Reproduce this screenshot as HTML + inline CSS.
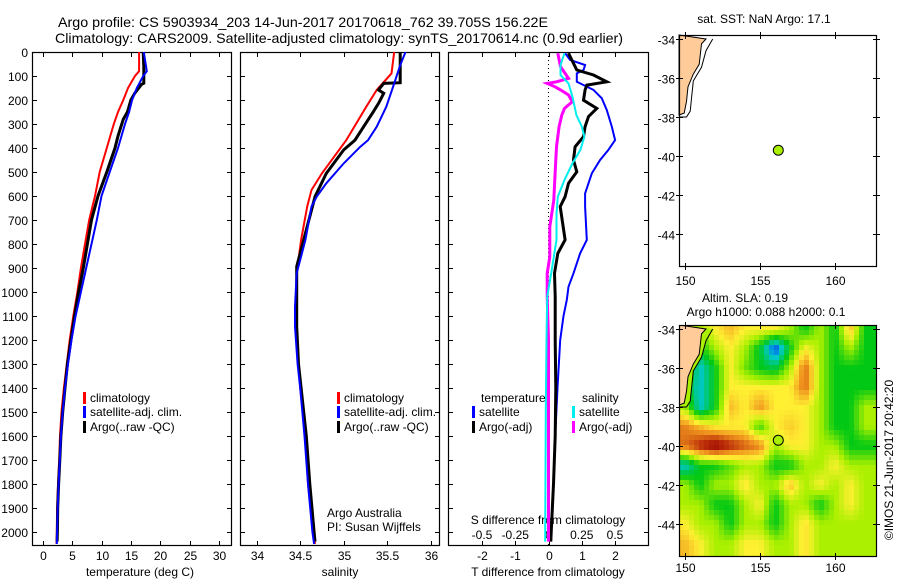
<!DOCTYPE html>
<html><head><meta charset="utf-8"><style>
html,body{margin:0;padding:0;background:#fff;}
svg{display:block;font-family:"Liberation Sans",sans-serif;}
text{font-size:12px;fill:#000;}
</style></head><body>
<svg id="svg" width="900" height="580" viewBox="0 0 900 580">
<defs>
<clipPath id="c1"><rect x="32" y="52" width="199" height="493"/></clipPath>
<clipPath id="c2"><rect x="240" y="52" width="199" height="493"/></clipPath>
<clipPath id="c3"><rect x="448" y="52" width="200" height="493"/></clipPath>
<clipPath id="cm2"><rect x="679" y="325" width="198" height="231"/></clipPath>
</defs>
<text x="303" y="27" text-anchor="middle" textLength="490" lengthAdjust="spacingAndGlyphs" style="font-size:14px">Argo profile: CS 5903934_203 14-Jun-2017 20170618_762 39.705S 156.22E</text>
<text x="339" y="43" text-anchor="middle" textLength="568" lengthAdjust="spacingAndGlyphs" style="font-size:14px">Climatology: CARS2009. Satellite-adjusted climatology: synTS_20170614.nc (0.9d earlier)</text>
<g id="g"></g>
</svg>
<script>
// ---- data ----
const tDepth=[0,80,100,150,200,250,300,400,500,600,700,800,900,1000,1100,1200,1300,1400,1500,1600,1700,1800,1900,2000,2050];
const tClim=[16.4,16.4,15.7,14.5,13.7,12.8,12.1,10.9,9.7,8.9,7.9,7.2,6.5,5.9,5.2,4.6,4.1,3.6,3.2,2.95,2.8,2.6,2.45,2.4,2.35];
const tSat=[17.2,17.7,17.1,16.0,15.2,14.7,14.0,12.8,11.4,10.0,9.2,8.3,7.4,6.5,5.6,4.9,4.3,3.8,3.4,3.1,2.9,2.7,2.55,2.45,2.4];
const tArgoDepth=[0,60,130,135,170,200,250,280,350,400,500,600,700,800,900,1000,1100,1200,1300,1400,1500,1600,1700,1800,1900,2000,2040];
const tArgo=[17.1,17.2,17.2,16.8,15.7,15.0,14.4,13.7,12.8,12.3,10.9,9.4,8.3,7.6,6.9,6.1,5.4,4.8,4.2,3.8,3.4,3.1,2.9,2.7,2.55,2.5,2.45];
const sClimDepth=[0,89,158,228,367,506,575,644,783,922,1144,1300,1400,1600,1800,2000,2050];
const sClim=[35.58,35.55,35.38,35.26,35.03,34.75,34.63,34.58,34.51,34.46,34.46,34.48,34.50,34.56,34.59,34.65,34.67];
const sSatDepth=[0,55,131,228,311,367,395,464,547,603,644,783,922,1061,1144,1300,1400,1600,1800,2000,2050];
const sSat=[35.71,35.65,35.58,35.49,35.38,35.28,35.19,35.0,34.80,34.69,34.63,34.56,34.46,34.44,34.44,34.47,34.50,34.55,34.59,34.64,34.66];
const sArgoDepth=[0,128,131,158,172,214,249,311,367,408,506,603,783,894,1144,1300,1400,1600,1800,2000,2040];
const sArgo=[35.65,35.65,35.46,35.40,35.46,35.40,35.34,35.23,35.13,35.0,34.80,34.67,34.54,34.46,34.46,34.48,34.51,34.57,34.61,34.66,34.67];
const dTSatDepth=[5,33,54,75,89,124,158,193,242,311,367,408,450,506,589,644,783,839,922,978,1033,1100,1200,1400,1600,1800,2000,2040];
const dTSat=[0.5,0.65,1.1,1.05,0.85,0.85,1.35,1.6,1.75,1.9,2.0,1.8,1.55,1.3,1.1,1.1,1.15,0.95,0.75,0.6,0.55,0.45,0.35,0.27,0.2,0.15,0.08,0.07];
const dTArgoDepth=[5,33,75,96,124,138,158,201,235,269,311,353,395,450,499,547,603,644,783,839,922,1019,1100,1200,1400,1600,1800,2000,2040];
const dTArgo=[0.6,0.7,0.85,1.35,1.75,1.15,1.1,1.05,1.45,1.2,1.1,1.05,0.8,0.75,0.85,0.6,0.5,0.35,0.5,0.28,0.18,0.2,0.2,0.2,0.22,0.2,0.15,0.08,0.07];
const dSSatDepth=[5,54,96,131,186,263,311,353,408,464,533,603,672,783,922,1019,1200,1500,2000,2040];
const dSSat=[0.12,0.09,0.09,0.15,0.18,0.21,0.25,0.27,0.24,0.18,0.12,0.07,0.06,0.06,0.02,-0.01,-0.015,-0.02,-0.025,-0.025];
const dSArgoDepth=[5,61,110,124,131,145,158,179,207,235,263,311,395,506,617,728,853,922,1019,1200,1500,2000,2040];
const dSArgo=[0.07,0.09,0.15,0.06,-0.01,0.05,0.09,0.15,0.18,0.12,0.1,0.08,0.06,0.05,0.04,0.01,0.01,-0.01,-0.01,0,0,0,0];
const depthTicks=[0,100,200,300,400,500,600,700,800,900,1000,1100,1200,1300,1400,1500,1600,1700,1800,1900,2000];
const tTicks=[0,5,10,15,20,25,30];
const sTicks=[34,34.5,35,35.5,36];
const sTickLabels=["34","34.5","35","35.5","36"];
const dTTicks=[-2,-1,0,1,2];
const dSTicks=[-0.5,-0.25,0,0.25,0.5];
const dSTickLabels=["-0.5","-0.25","0","0.25","0.5"];
const latTicks=[-34,-36,-38,-40,-42,-44];
const lonTicks=[150,155,160];
// SLA grid: rows lat -34..-45, cols lon 150..162
const slaLats=[-34,-35,-36,-37,-38,-39,-40,-41,-42,-43,-44,-45];
const slaLons=[150,151,152,153,154,155,156,157,158,159,160,161,162];
const sla=[
[0,0,0.2,0.35,0.2,0.2,0.2,0,-0.3,0,-0.3,0.35,-0.3],
[0,-0.3,0,0.2,0,-0.35,-0.95,-0.3,0.2,0,-0.3,0,-0.3],
[0,-0.65,-0.3,0.2,-0.1,-0.3,-0.4,0,0.55,0,-0.3,-0.3,-0.3],
[-0.3,-0.65,-0.3,0.2,0.2,0.2,0.2,0.2,0.55,0,-0.3,-0.3,-0.3],
[0,-0.65,-0.3,0.35,0.2,0.45,0.2,0.2,0.2,0,-0.3,-0.3,0],
[0.5,0.35,0.2,0.2,0.2,-0.2,0.2,0.3,0.2,0,-0.3,-0.3,0],
[0.55,0.75,0.95,0.75,0.6,0.5,0,0.2,0.2,0,0,-0.3,-0.3],
[-0.65,-0.3,-0.3,-0.15,0,0,-0.3,-0.3,0,0,0.2,0,0],
[0,-0.3,0,0,0.25,0,0,0.35,0,0.2,0,0.2,0],
[0,0,-0.3,-0.3,0,0.2,-0.3,0,0,-0.3,0,0.2,0],
[0.2,0,0,-0.3,0,0,-0.3,0,0.25,0,0,0,0],
[0.35,0.2,0,0,0.2,0.2,0,0,0.25,0,0,0,0]];
const floatLon=156.22, floatLat=-39.705;

// ---- scales ----
const yD=d=>52+0.24*d;
const xT=t=>42.7+5.88*t;
const xS=s=>256.7+87*(s-34);
const xdT=v=>548.5+33.3*v;
const xdS=v=>548.5+133*v;
const mx=lon=>685+15*(lon-150);
const my1=lat=>39+19.5*(-34-lat);
const my2=lat=>329+19.5*(-34-lat);

const NS="http://www.w3.org/2000/svg";
const G=document.getElementById('g');
function el(tag,attrs,parent){const e=document.createElementNS(NS,tag);for(const k in attrs)e.setAttribute(k,attrs[k]);(parent||G).appendChild(e);return e;}
function txt(x,y,s,anchor,parent,extra){const e=el('text',Object.assign({x:x,y:y,'text-anchor':anchor||'start'},extra||{}),parent);e.textContent=s;return e;}

function panel(x0,w,name){
  const g=el('g',{});
  
  
  const r=el('rect',{x:x0+0.5,y:52.5,width:w,height:493,fill:'none',stroke:'#000','stroke-width':1.2},g);
  
  
  depthTicks.forEach(d=>{
    el('line',{x1:x0,x2:x0+5,y1:yD(d)+0.5,y2:yD(d)+0.5,stroke:'#000'},g);
    el('line',{x1:x0+w-4,x2:x0+w+1,y1:yD(d)+0.5,y2:yD(d)+0.5,stroke:'#000'},g);
  });
  return g;
}
function xticks(g,vals,labels,fx,ly){
  vals.forEach((v,i)=>{
    const x=Math.round(fx(v))+0.5;
    el('line',{x1:x,x2:x,y1:52,y2:57,stroke:'#000'},g);
    el('line',{x1:x,x2:x,y1:541,y2:546,stroke:'#000'},g);
    const t=txt(x,ly,labels[i],'middle',g);
    
    
  });
}
function line(depths,vals,fx,color,w,clip,name){
  const pts=depths.map((d,i)=>fx(vals[i]).toFixed(1)+','+yD(d).toFixed(1)).join(' ');
  const p=el('polyline',{points:pts,fill:'none',stroke:color,'stroke-width':w,'clip-path':'url(#'+clip+')','stroke-linejoin':'miter'});
  
  
}
function legend(x,y,color,label,g){
  el('rect',{x:x,y:y-10,width:3,height:12,fill:color},g);
  const t=txt(x+7,y,label,'start',g);
  
  
}

// Panel 1 temperature
const p1=panel(32,199,'temperature-panel');
depthTicks.forEach(d=>{const t=txt(28,yD(d)+5,String(d),'end',p1);});
xticks(p1,tTicks,tTicks.map(String),xT,560);
{const t=txt(140,576,'temperature (deg C)','middle',p1);}
line(tDepth,tClim,xT,'#ff0000',2,'c1','temperature-climatology-line');
line(tArgoDepth,tArgo,xT,'#000000',3,'c1','temperature-argo-line');
line(tDepth,tSat,xT,'#0000ff',2,'c1','temperature-satellite-line');
legend(83,402,'#ff0000','climatology',p1);
legend(83,416,'#0000ff','satellite-adj. clim.',p1);
legend(83,431,'#000000','Argo(..raw -QC)',p1);

// Panel 2 salinity
const p2=panel(240,199,'salinity-panel');
xticks(p2,sTicks,sTickLabels,xS,560);
{const t=txt(340,576,'salinity','middle',p2);}
line(sClimDepth,sClim,xS,'#ff0000',2,'c2','salinity-climatology-line');
line(sArgoDepth,sArgo,xS,'#000000',3,'c2','salinity-argo-line');
line(sSatDepth,sSat,xS,'#0000ff',2,'c2','salinity-satellite-line');
legend(337,402,'#ff0000','climatology',p2);
legend(337,416,'#0000ff','satellite-adj. clim.',p2);
legend(337,431,'#000000','Argo(..raw -QC)',p2);
{const t=txt(327,517,'Argo Australia','start',p2);}
{const t=txt(327,531,'PI: Susan Wijffels','start',p2);}

// Panel 3 differences
const p3=panel(448,200,'difference-panel');
el('line',{x1:548.5,x2:548.5,y1:52,y2:545,stroke:'#000','stroke-dasharray':'1,3'},p3);
dTTicks.forEach(v=>{const x=Math.round(xdT(v))+0.5;el('line',{x1:x,x2:x,y1:52,y2:57,stroke:'#000'},p3);el('line',{x1:x,x2:x,y1:541,y2:546,stroke:'#000'},p3);
  const t=txt(x,560,String(v),'middle',p3);});
dSTicks.forEach((v,i)=>{const t=txt(xdS(v),539,dSTickLabels[i],'middle',p3);});
{const t=txt(548,524,'S difference from climatology','middle',p3);}
{const t=txt(548,576,'T difference from climatology','middle',p3);}
line(dTSatDepth,dTSat,xdT,'#0000ff',2,'c3','t-diff-satellite-line');
line(dTArgoDepth,dTArgo,xdT,'#000000',3,'c3','t-diff-argo-line');
line(dSArgoDepth,dSArgo,xdS,'#ff00ff',3,'c3','s-diff-argo-line');
line(dSSatDepth,dSSat,xdS,'#00eeee',2,'c3','s-diff-satellite-line');
txt(481,402,'temperature','start',p3);
txt(582,402,'salinity','start',p3);
legend(472,416,'#0000ff','satellite',p3);
legend(472,431,'#000000','Argo(-adj)',p3);
legend(572,416,'#00eeee','satellite',p3);
legend(572,431,'#ff00ff','Argo(-adj)',p3);

// ---- maps ----
const coast=[[151.4,-34],[151.1,-34.25],[150.95,-35.3],[150.55,-35.8],[150.2,-36.45],[150.1,-37.2],[149.95,-37.8],[149.6,-37.9]];
const contour=[[151.85,-34],[151.4,-34.6],[151.1,-35.45],[150.55,-36.15],[150.45,-36.95],[150.35,-37.7],[150.1,-38.0],[149.6,-38.0]];
function mapFrame(g,my,yTop,lblY,name){
  const f=el('rect',{x:679.5,y:yTop+0.5,width:197,height:231,fill:'none',stroke:'#000','stroke-width':1.2},g);
  
  
  latTicks.forEach(l=>{const y=Math.round(my(l))+0.5;
    el('line',{x1:676,x2:683,y1:y,y2:y,stroke:'#000'},g);el('line',{x1:873,x2:880,y1:y,y2:y,stroke:'#000'},g);
    const t=txt(675,y+5,String(l),'end',g);});
  lonTicks.forEach(l=>{const x=Math.round(mx(l))+0.5;
    el('line',{x1:x,x2:x,y1:yTop-3,y2:yTop+4,stroke:'#000'},g);el('line',{x1:x,x2:x,y1:yTop+228,y2:yTop+235,stroke:'#000'},g);
    const t=txt(x,lblY,String(l),'middle',g);});
}
function landPts(my,yTop){return '679,'+(yTop)+' '+coast.map(p=>mx(p[0]).toFixed(1)+','+my(p[1]).toFixed(1)).join(' ');}
function contourPts(my){return contour.map(p=>mx(p[0]).toFixed(1)+','+my(p[1]).toFixed(1)).join(' ');}

// Map 1
const m1=el('g',{});


{const t=txt(764,23,'sat. SST: NaN Argo: 17.1','middle',m1);}
el('polygon',{points:landPts(my1,35),fill:'#ffcc99',stroke:'#000','stroke-width':1},m1);
el('polyline',{points:contourPts(my1),fill:'none',stroke:'#000','stroke-width':1},m1);
mapFrame(m1,my1,35,285,'sst-map');
{const c=el('circle',{cx:mx(floatLon),cy:my1(floatLat),r:5,fill:'#aaee00',stroke:'#000'},m1);}

// Map 2
const m2=el('g',{});


{const t=txt(745,302,'Altim. SLA: 0.19','middle',m2);}
{const t=txt(766,316,'Argo h1000: 0.088 h2000: 0.1','middle',m2);}
const stops=[[-0.95,[0,60,240]],[-0.65,[0,200,210]],[-0.3,[0,200,20]],[0,[170,240,0]],[0.2,[255,240,50]],[0.45,[240,150,30]],[0.7,[190,50,10]],[0.95,[150,0,0]]];
function cmap(v){if(v<=stops[0][0])return 'rgb('+stops[0][1]+')';
  for(let i=1;i<stops.length;i++){if(v<=stops[i][0]){const a=stops[i-1],b=stops[i],f=(v-a[0])/(b[0]-a[0]);
    return 'rgb('+a[1].map((c,k)=>Math.round(c+(b[1][k]-c)*f)).join(',')+')';}}
  return 'rgb('+stops[stops.length-1][1]+')';}
// bilinear sampling of the SLA grid
function slaAt(lon,lat){
  let fc=Math.min(Math.max(lon-slaLons[0],0),slaLons.length-1);
  let fr=Math.min(Math.max(slaLats[0]-lat,0),slaLats.length-1);
  const c0=Math.min(Math.floor(fc),slaLons.length-2), r0=Math.min(Math.floor(fr),slaLats.length-2);
  const u=fc-c0, v=fr-r0;
  return sla[r0][c0]*(1-u)*(1-v)+sla[r0][c0+1]*u*(1-v)+sla[r0+1][c0]*(1-u)*v+sla[r0+1][c0+1]*u*v;
}
const hmClip=el('g',{'clip-path':'url(#cm2)'},m2);
const hm=el('g',{'shape-rendering':'crispEdges'},hmClip);


const PX=5;
for(let y=325;y<556;y+=PX){
  for(let x=679;x<877;x+=PX){
    const lon=150+(x+PX/2-685)/15, lat=-34-(y+PX/2-329)/19.5;
    const cell=el('rect',{x:x,y:y,width:PX,height:PX,fill:cmap(slaAt(lon,lat))},hm);
    
    
  }
}
el('polygon',{points:'679,325 '+contour.map(p=>mx(p[0]).toFixed(1)+','+my2(p[1]).toFixed(1)).join(' '),fill:'#aaf000'},hmClip);
el('polygon',{points:landPts(my2,325),fill:'#ffcc99',stroke:'#000','stroke-width':1},hmClip);
el('polyline',{points:contourPts(my2),fill:'none',stroke:'#000','stroke-width':1},hmClip);
mapFrame(m2,my2,325,572,'sla-map');
{const c=el('circle',{cx:mx(floatLon),cy:my2(floatLat),r:5,fill:'#aaee00',stroke:'#000'},m2);}
{const t=txt(0,0,'©IMOS 21-Jun-2017 20:42:20','middle',m2,{transform:'translate(893,460) rotate(-90)'});}
</script>
</body></html>
